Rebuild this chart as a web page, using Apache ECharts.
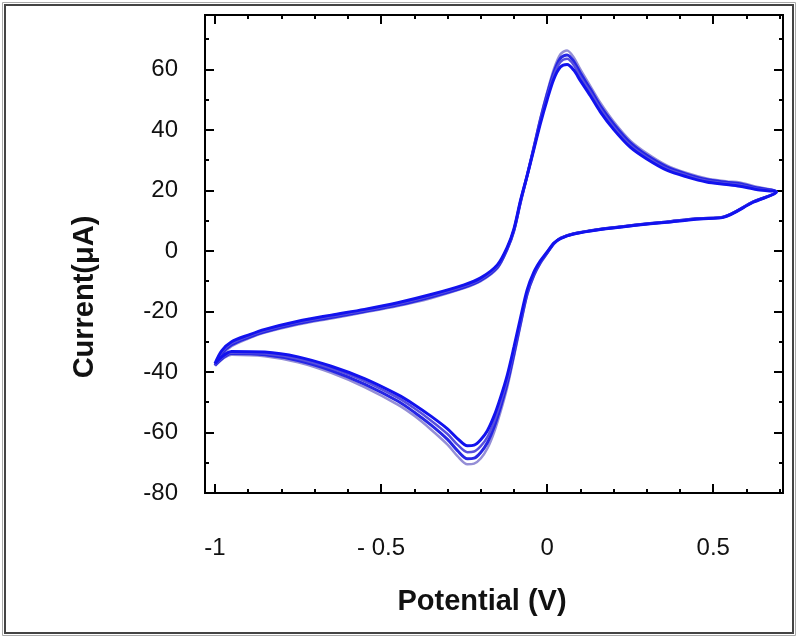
<!DOCTYPE html>
<html><head><meta charset="utf-8">
<script src="https://cdn.jsdelivr.net/npm/echarts@6/dist/echarts.min.js"></script>
<style>html,body{margin:0;padding:0;background:#fff}#c{width:798px;height:638px}</style>
</head><body><div id="c"></div>
<script>
// Potential (V) sampling for the anodic (forward) and cathodic (reverse) scans
const forwardPotential = [-1.0, -0.98, -0.95, -0.9, -0.85, -0.75, -0.65, -0.55, -0.45, -0.35, -0.25, -0.2, -0.15, -0.12, -0.1, -0.08, -0.06, -0.04, -0.02, 0.0, 0.02, 0.04, 0.06, 0.08, 0.1, 0.13, 0.16, 0.2, 0.25, 0.3, 0.36, 0.42, 0.48, 0.54, 0.58, 0.63, 0.69];
const reversePotential = [0.62, 0.53, 0.46, 0.36, 0.26, 0.16, 0.08, 0.04, 0.02, 0.0, -0.02, -0.04, -0.06, -0.08, -0.1, -0.12, -0.14, -0.16, -0.18, -0.2, -0.22, -0.24, -0.27, -0.3, -0.35, -0.4, -0.45, -0.55, -0.65, -0.75, -0.85, -0.95, -1.0];

// Current (µA), four overlapping cycles
const cycleA_fwd = [-38.0, -34.5, -31.5, -29.0, -27.0, -24.3, -22.3, -20.3, -18.2, -15.6, -12.3, -10.0, -5.8, 0.5, 6.5, 16.0, 25.0, 34.5, 44.0, 52.5, 60.0, 65.0, 66.3, 64.0, 60.0, 54.5, 49.0, 42.8, 36.5, 32.3, 28.3, 25.8, 24.0, 23.0, 22.6, 21.2, 19.6];
const cycleA_rev = [16.3, 11.3, 10.8, 9.7, 8.6, 7.3, 5.8, 4.3, 2.4, -0.8, -4.0, -8.3, -14.5, -24.5, -35.0, -45.0, -53.0, -60.0, -65.3, -68.6, -70.3, -70.5, -67.8, -64.0, -59.0, -54.5, -50.8, -45.0, -40.3, -36.8, -34.8, -34.3, -38.0];
const cycleB_fwd = [-37.8, -34.0, -31.0, -28.6, -26.7, -24.0, -22.0, -20.0, -17.9, -15.2, -12.0, -9.7, -5.4, 0.8, 6.8, 16.3, 25.0, 34.2, 43.5, 51.8, 59.0, 63.7, 64.8, 62.7, 58.8, 53.5, 48.0, 42.0, 35.8, 31.6, 27.8, 25.4, 23.6, 22.7, 22.2, 20.9, 19.5];
const cycleB_rev = [16.2, 11.2, 10.7, 9.6, 8.5, 7.2, 5.7, 4.2, 2.4, -0.6, -3.7, -7.9, -14.0, -23.7, -34.0, -43.7, -51.5, -58.3, -63.4, -66.6, -68.5, -68.7, -66.0, -62.3, -57.5, -53.3, -49.6, -44.0, -39.5, -36.2, -34.3, -33.9, -37.8];
const cycleC_fwd = [-37.5, -33.5, -30.5, -28.2, -26.3, -23.6, -21.6, -19.7, -17.5, -14.8, -11.6, -9.3, -5.0, 1.0, 7.0, 16.5, 25.0, 34.0, 43.0, 51.0, 58.0, 62.5, 63.5, 61.5, 57.5, 52.5, 47.0, 41.0, 35.0, 31.0, 27.2, 25.0, 23.2, 22.3, 21.8, 20.6, 19.5];
const cycleC_rev = [16.2, 11.2, 10.7, 9.6, 8.5, 7.2, 5.7, 4.2, 2.5, -0.5, -3.5, -7.5, -13.5, -23.0, -33.0, -42.5, -50.0, -56.5, -61.5, -64.5, -66.3, -66.5, -64.0, -60.5, -56.0, -52.0, -48.5, -43.0, -38.8, -35.6, -33.9, -33.6, -37.5];
const cycleD_fwd = [-37.2, -33.0, -30.0, -27.8, -25.9, -23.2, -21.2, -19.3, -17.1, -14.4, -11.2, -8.9, -4.6, 1.3, 7.3, 16.8, 25.0, 33.6, 42.3, 50.0, 56.8, 60.8, 61.6, 59.8, 56.3, 51.3, 46.0, 40.2, 34.3, 30.4, 26.7, 24.5, 22.8, 22.0, 21.4, 20.3, 19.4];
const cycleD_rev = [16.1, 11.1, 10.6, 9.5, 8.4, 7.1, 5.6, 4.1, 2.6, -0.3, -3.2, -7.0, -12.8, -22.0, -31.8, -41.0, -48.3, -54.6, -59.4, -62.4, -64.2, -64.4, -62.0, -58.8, -54.6, -50.8, -47.5, -42.2, -38.1, -35.0, -33.4, -33.2, -37.2];

// Axis ticks and labels
const xMajorTicks = [-1, -0.5, 0, 0.5];
const xTickLabels = ['-1', '- 0.5', '0', '0.5'];
const xMinorTicks = [-0.9, -0.8, -0.7, -0.6, -0.4, -0.3, -0.2, -0.1, 0.1, 0.2, 0.3, 0.4, 0.6, 0.7];
const yMajorTicks = [-80, -60, -40, -20, 0, 20, 40, 60];
const yTickLabels = ['-80', '-60', '-40', '-20', '0', '20', '40', '60'];
const yMinorTicks = [-70, -50, -30, -10, 10, 30, 50, 70];
const xTitle = 'Potential (V)';
const yTitle = 'Current(μA)';

const FONT = '"Liberation Sans", Arial, sans-serif';
const X_MIN = -1.03, X_MAX = 0.71, Y_MIN = -80, Y_MAX = 78;

function loop(fwd, rev) {
  const pts = forwardPotential.map((p, i) => [p, fwd[i]]);
  reversePotential.forEach((p, i) => pts.push([p, rev[i]]));
  return pts;
}

function xAx(pos, ticks, len, labels) {
  return {
    type: 'value', position: pos, min: X_MIN, max: X_MAX,
    axisLine: { show: true, onZero: false, lineStyle: { color: '#000', width: 2 } },
    axisTick: { show: true, inside: true, length: len, customValues: ticks, lineStyle: { color: '#000', width: 2 } },
    axisLabel: labels ? {
      show: true, customValues: xMajorTicks, margin: 43, fontSize: 24, color: '#111', fontFamily: FONT,
      formatter: v => { const i = xMajorTicks.findIndex(t => Math.abs(t - v) < 1e-9); return i >= 0 ? xTickLabels[i] : ''; }
    } : { show: false },
    splitLine: { show: false }
  };
}
function yAx(pos, ticks, len, labels) {
  return {
    type: 'value', position: pos, min: Y_MIN, max: Y_MAX,
    axisLine: { show: true, onZero: false, lineStyle: { color: '#000', width: 2 } },
    axisTick: { show: true, inside: true, length: len, customValues: ticks, lineStyle: { color: '#000', width: 2 } },
    axisLabel: labels ? {
      show: true, customValues: yMajorTicks, margin: 27, fontSize: 24, color: '#111', fontFamily: FONT,
      formatter: v => { const i = yMajorTicks.findIndex(t => Math.abs(t - v) < 1e-9); return i >= 0 ? yTickLabels[i] : ''; }
    } : { show: false },
    splitLine: { show: false }
  };
}

const cycles = [
  { fwd: cycleA_fwd, rev: cycleA_rev, color: '#948ed6', w: 2.5 },
  { fwd: cycleB_fwd, rev: cycleB_rev, color: '#2626e4', w: 3 },
  { fwd: cycleC_fwd, rev: cycleC_rev, color: '#5850dc', w: 2.5 },
  { fwd: cycleD_fwd, rev: cycleD_rev, color: '#1212ee', w: 3 }
];

const chart = echarts.init(document.getElementById('c'), null, { renderer: 'canvas' });
chart.setOption({
  animation: false,
  backgroundColor: '#fff',
  grid: { left: 205, right: 15, top: 15, bottom: 145, containLabel: false },
  xAxis: [
    xAx('bottom', xMajorTicks, 9, true),
    xAx('bottom', xMinorTicks, 4, false),
    xAx('top', xMajorTicks, 9, false),
    xAx('top', xMinorTicks, 4, false)
  ],
  yAxis: [
    yAx('left', yMajorTicks, 9, true),
    yAx('left', yMinorTicks, 4, false),
    yAx('right', yMajorTicks, 9, false),
    yAx('right', yMinorTicks, 4, false)
  ],
  graphic: [
    { type: 'rect', shape: { x: 2.5, y: 2.5, width: 793, height: 633 }, style: { fill: 'none', stroke: '#aaa', lineWidth: 1 }, silent: true },
    { type: 'rect', shape: { x: 5, y: 5, width: 788, height: 628 }, style: { fill: 'none', stroke: '#444', lineWidth: 2 }, silent: true },
    { type: 'text', x: 482, y: 602, style: { text: xTitle, font: 'bold 29px ' + FONT, fill: '#111', textAlign: 'center', textVerticalAlign: 'middle' } },
    { type: 'text', x: 85, y: 297, rotation: Math.PI / 2, style: { text: yTitle, font: 'bold 29px ' + FONT, fill: '#111', textAlign: 'center', textVerticalAlign: 'middle' } }
  ],
  series: cycles.map((c, i) => ({
    type: 'line', name: 'cycle ' + (i + 1), xAxisIndex: 0, yAxisIndex: 0,
    data: loop(c.fwd, c.rev), showSymbol: false, smooth: 0.3,
    lineStyle: { color: c.color, width: c.w }, silent: true
  }))
});
</script></body></html>
